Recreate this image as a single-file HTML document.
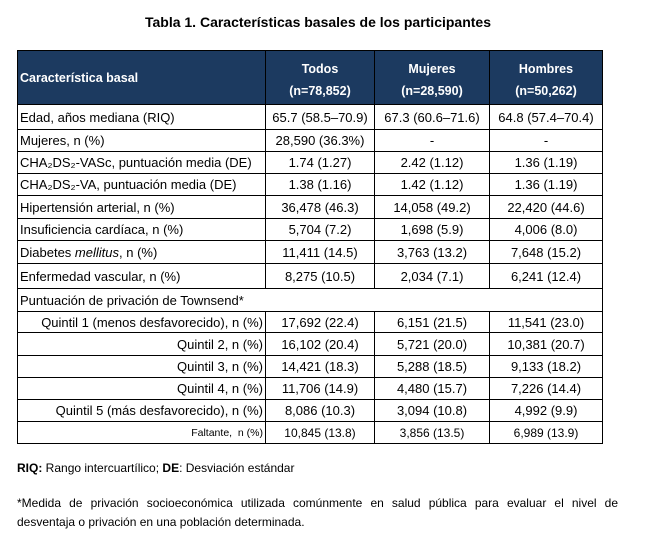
<!DOCTYPE html>
<html>
<head>
<meta charset="utf-8">
<style>
  html,body{margin:0;padding:0;background:#fff;}
  body{width:650px;height:539px;position:relative;overflow:hidden;font-family:"Liberation Sans","DejaVu Sans",sans-serif;color:#000;}
  .a{position:absolute;}
  .h{position:absolute;height:1px;background:#000;left:17px;width:586px;}
  .v{position:absolute;width:1px;background:#000;}
  .c{position:absolute;display:flex;align-items:center;justify-content:center;font-size:13px;white-space:nowrap;}
  .l{justify-content:flex-start;padding-left:3px;box-sizing:border-box;}
  .r{justify-content:flex-end;padding-right:2px;box-sizing:border-box;}
  .hd{color:#fff;font-weight:bold;font-size:12.5px;}
</style>
</head>
<body>
<div class="a" style="left:0;width:636px;top:13px;text-align:center;font-weight:bold;font-size:14px;line-height:18px;">Tabla 1. Características basales de los participantes</div>

<!-- header background -->
<div class="a" style="left:17px;top:50px;width:586px;height:54px;background:#1c3a60;"></div>

<!-- horizontal lines -->
<div class="h" style="top:50px"></div>
<div class="h" style="top:104px"></div>
<div class="h" style="top:129px"></div>
<div class="h" style="top:151px"></div>
<div class="h" style="top:173px"></div>
<div class="h" style="top:195px"></div>
<div class="h" style="top:218px"></div>
<div class="h" style="top:240px"></div>
<div class="h" style="top:263px"></div>
<div class="h" style="top:288px"></div>
<div class="h" style="top:311px"></div>
<div class="h" style="top:332px"></div>
<div class="h" style="top:355px"></div>
<div class="h" style="top:377px"></div>
<div class="h" style="top:399px"></div>
<div class="h" style="top:421px"></div>
<div class="h" style="top:443px"></div>

<!-- vertical lines -->
<div class="v" style="left:17px;top:50px;height:394px"></div>
<div class="v" style="left:602px;top:50px;height:394px"></div>
<div class="v" style="left:265px;top:50px;height:238px"></div>
<div class="v" style="left:374px;top:50px;height:238px"></div>
<div class="v" style="left:489px;top:50px;height:238px"></div>
<div class="v" style="left:265px;top:311px;height:133px"></div>
<div class="v" style="left:374px;top:311px;height:133px"></div>
<div class="v" style="left:489px;top:311px;height:133px"></div>

<!-- header text -->
<div class="c l hd" style="left:17px;width:248px;top:51px;height:53px;">Característica basal</div>
<div class="a hd" style="left:265px;width:110px;top:58px;text-align:center;line-height:22px;">Todos<br>(n=78,852)</div>
<div class="a hd" style="left:374px;width:116px;top:58px;text-align:center;line-height:22px;">Mujeres<br>(n=28,590)</div>
<div class="a hd" style="left:489px;width:114px;top:58px;text-align:center;line-height:22px;">Hombres<br>(n=50,262)</div>

<!-- row 1 -->
<div class="c l" style="left:17px;width:248px;top:105px;height:24px;">Edad, años mediana (RIQ)</div>
<div class="c" style="left:265px;width:110px;top:105px;height:24px;">65.7 (58.5–70.9)</div>
<div class="c" style="left:374px;width:116px;top:105px;height:24px;">67.3 (60.6–71.6)</div>
<div class="c" style="left:489px;width:114px;top:105px;height:24px;">64.8 (57.4–70.4)</div>

<!-- row 2 -->
<div class="c l" style="left:17px;width:248px;top:130px;height:21px;">Mujeres, n (%)</div>
<div class="c" style="left:265px;width:110px;top:130px;height:21px;">28,590 (36.3%)</div>
<div class="c" style="left:374px;width:116px;top:130px;height:21px;">-</div>
<div class="c" style="left:489px;width:114px;top:130px;height:21px;">-</div>

<!-- row 3 -->
<div class="c l" style="left:17px;width:248px;top:152px;height:21px;">CHA₂DS₂-VASc, puntuación media (DE)</div>
<div class="c" style="left:265px;width:110px;top:152px;height:21px;">1.74 (1.27)</div>
<div class="c" style="left:374px;width:116px;top:152px;height:21px;">2.42 (1.12)</div>
<div class="c" style="left:489px;width:114px;top:152px;height:21px;">1.36 (1.19)</div>

<!-- row 4 -->
<div class="c l" style="left:17px;width:248px;top:174px;height:21px;">CHA₂DS₂-VA, puntuación media (DE)</div>
<div class="c" style="left:265px;width:110px;top:174px;height:21px;">1.38 (1.16)</div>
<div class="c" style="left:374px;width:116px;top:174px;height:21px;">1.42 (1.12)</div>
<div class="c" style="left:489px;width:114px;top:174px;height:21px;">1.36 (1.19)</div>

<!-- row 5 -->
<div class="c l" style="left:17px;width:248px;top:196px;height:22px;">Hipertensión arterial, n (%)</div>
<div class="c" style="left:265px;width:110px;top:196px;height:22px;">36,478 (46.3)</div>
<div class="c" style="left:374px;width:116px;top:196px;height:22px;">14,058 (49.2)</div>
<div class="c" style="left:489px;width:114px;top:196px;height:22px;">22,420 (44.6)</div>

<!-- row 6 -->
<div class="c l" style="left:17px;width:248px;top:219px;height:21px;">Insuficiencia cardíaca, n (%)</div>
<div class="c" style="left:265px;width:110px;top:219px;height:21px;">5,704 (7.2)</div>
<div class="c" style="left:374px;width:116px;top:219px;height:21px;">1,698 (5.9)</div>
<div class="c" style="left:489px;width:114px;top:219px;height:21px;">4,006 (8.0)</div>

<!-- row 7 -->
<div class="c l" style="left:17px;width:248px;top:241px;height:22px;">Diabetes&nbsp;<i>mellitus</i>, n (%)</div>
<div class="c" style="left:265px;width:110px;top:241px;height:22px;">11,411 (14.5)</div>
<div class="c" style="left:374px;width:116px;top:241px;height:22px;">3,763 (13.2)</div>
<div class="c" style="left:489px;width:114px;top:241px;height:22px;">7,648 (15.2)</div>

<!-- row 8 -->
<div class="c l" style="left:17px;width:248px;top:264px;height:24px;">Enfermedad vascular, n (%)</div>
<div class="c" style="left:265px;width:110px;top:264px;height:24px;">8,275 (10.5)</div>
<div class="c" style="left:374px;width:116px;top:264px;height:24px;">2,034 (7.1)</div>
<div class="c" style="left:489px;width:114px;top:264px;height:24px;">6,241 (12.4)</div>

<!-- row 9 -->
<div class="c l" style="left:17px;width:400px;top:289px;height:22px;">Puntuación de privación de Townsend*</div>

<!-- row 10 -->
<div class="c r" style="left:17px;width:248px;top:312px;height:20px;">Quintil 1 (menos desfavorecido), n (%)</div>
<div class="c" style="left:265px;width:110px;top:312px;height:20px;">17,692 (22.4)</div>
<div class="c" style="left:374px;width:116px;top:312px;height:20px;">6,151 (21.5)</div>
<div class="c" style="left:489px;width:114px;top:312px;height:20px;">11,541 (23.0)</div>

<!-- row 11 -->
<div class="c r" style="left:17px;width:248px;top:333px;height:22px;">Quintil 2, n (%)</div>
<div class="c" style="left:265px;width:110px;top:333px;height:22px;">16,102 (20.4)</div>
<div class="c" style="left:374px;width:116px;top:333px;height:22px;">5,721 (20.0)</div>
<div class="c" style="left:489px;width:114px;top:333px;height:22px;">10,381 (20.7)</div>

<!-- row 12 -->
<div class="c r" style="left:17px;width:248px;top:356px;height:21px;">Quintil 3, n (%)</div>
<div class="c" style="left:265px;width:110px;top:356px;height:21px;">14,421 (18.3)</div>
<div class="c" style="left:374px;width:116px;top:356px;height:21px;">5,288 (18.5)</div>
<div class="c" style="left:489px;width:114px;top:356px;height:21px;">9,133 (18.2)</div>

<!-- row 13 -->
<div class="c r" style="left:17px;width:248px;top:378px;height:21px;">Quintil 4, n (%)</div>
<div class="c" style="left:265px;width:110px;top:378px;height:21px;">11,706 (14.9)</div>
<div class="c" style="left:374px;width:116px;top:378px;height:21px;">4,480 (15.7)</div>
<div class="c" style="left:489px;width:114px;top:378px;height:21px;">7,226 (14.4)</div>

<!-- row 14 -->
<div class="c r" style="left:17px;width:248px;top:400px;height:21px;">Quintil 5 (más desfavorecido), n (%)</div>
<div class="c" style="left:265px;width:110px;top:400px;height:21px;">8,086 (10.3)</div>
<div class="c" style="left:374px;width:116px;top:400px;height:21px;">3,094 (10.8)</div>
<div class="c" style="left:489px;width:114px;top:400px;height:21px;">4,992 (9.9)</div>

<!-- row 15 -->
<div class="c r" style="left:17px;width:248px;top:422px;height:21px;font-size:10.5px;">Faltante,&nbsp; n (%)</div>
<div class="c" style="left:265px;width:110px;top:422px;height:21px;font-size:12px;">10,845 (13.8)</div>
<div class="c" style="left:374px;width:116px;top:422px;height:21px;font-size:12px;">3,856 (13.5)</div>
<div class="c" style="left:489px;width:114px;top:422px;height:21px;font-size:12px;">6,989 (13.9)</div>

<!-- footnotes -->
<div class="a" style="left:17px;top:460px;font-size:12px;line-height:16px;white-space:nowrap;"><b>RIQ:</b> Rango intercuartílico; <b>DE</b>: Desviación estándar</div>
<div class="a" style="left:17px;top:495px;width:601px;font-size:12px;line-height:16px;text-align:justify;text-align-last:justify;white-space:nowrap;">*Medida de privación socioeconómica utilizada comúnmente en salud pública para evaluar el nivel de</div>
<div class="a" style="left:17px;top:514px;font-size:12px;line-height:16px;white-space:nowrap;">desventaja o privación en una población determinada.</div>
</body>
</html>
